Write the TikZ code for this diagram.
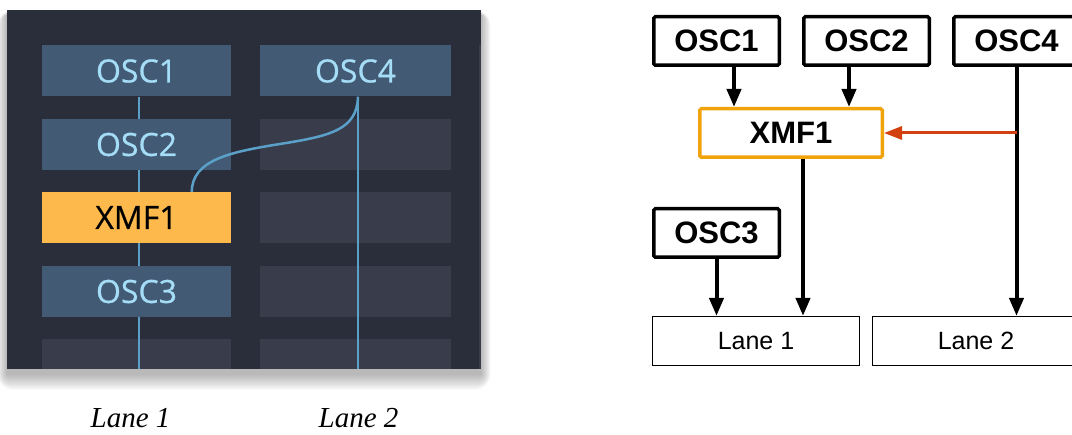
\documentclass[tikz,border=0pt]{standalone}
\usepackage{fontspec}
\setmainfont{Liberation Sans}
\newfontfamily\uifont[FakeBold=0.6]{Open Sans}
\newfontfamily\capfont{Liberation Serif}
\usetikzlibrary{arrows.meta}
\definecolor{panel}{HTML}{2A2D3A}
\definecolor{emptycell}{HTML}{393C4A}
\definecolor{fullcell}{HTML}{425A74}
\definecolor{celltext}{HTML}{A5DDF7}
\definecolor{xmffill}{HTML}{FDB94C}
\definecolor{wire}{HTML}{5AA0C8}
\definecolor{xmfborder}{HTML}{F0A30A}
\definecolor{redarrow}{HTML}{D2400F}
\tikzset{
  cellbox/.style={inner sep=0pt, minimum height=51pt, font=\uifont\fontsize{32}{32}\selectfont},
  emptybox/.style={cellbox, fill=emptycell},
  fullbox/.style={cellbox, fill=fullcell, text=celltext},
  xmfbox/.style={cellbox, fill=xmffill, text=black},
  wireline/.style={draw=wire, line width=2.5pt},
  lanecap/.style={anchor=base, inner sep=0pt, font=\capfont\itshape\fontsize{29}{29}\selectfont},
  srcbox/.style={draw=black, line width=3.5pt, rounded corners=1.5pt, inner sep=0pt,
     minimum width=125.5pt, minimum height=48.5pt, font=\bfseries\fontsize{31}{31}\selectfont},
  lanebox/.style={draw=black, line width=1.2pt, inner sep=0pt,
     minimum width=207pt, minimum height=49pt, font=\fontsize{25}{25}\selectfont},
  arr/.style={line width=4pt, -{Triangle[length=18pt,width=14pt]}},
  redarr/.style={draw=redarrow, line width=3pt, -{Triangle[length=18pt,width=13pt]}}
}
\begin{document}
\begin{tikzpicture}[x=1pt,y=-1pt]
\useasboundingbox (0,0) rectangle (1072,435);
% ---------- left panel with soft shadow ----------
\foreach \i in {1,...,16}{
  \fill[black, opacity=0.018, rounded corners=\i pt] (7-0.6*\i,10-0.3*\i+5) rectangle (481+0.6*\i,369+\i+5);
}
\fill[panel] (7,10) rectangle (481,369);
\begin{scope}
\clip (7,10) rectangle (481,369);
\node[emptybox, minimum width=191pt] (e2) at (355.5,144.5) {};
\node[emptybox, minimum width=191pt] (e3) at (355.5,217.5) {};
\node[emptybox, minimum width=191pt] (e4) at (355.5,291.5) {};
\node[emptybox, minimum width=191pt] (e5) at (355.5,365) {};
\node[emptybox, minimum width=189pt] (d5) at (136.5,365) {};
\fill[emptycell] (479,45) rectangle (481,369);
\coordinate (bot1) at (139,369);
\coordinate (bot2) at (358,369);
\end{scope}
\node[fullbox, minimum width=189pt] (lo1) at (136.5,71) {OSC1};
\node[fullbox, minimum width=191pt] (lo4) at (355.5,71) {OSC4};
\draw[wireline] ([xshift=2.5pt]lo1.south) -- ([xshift=2.5pt]lo1.south |- bot1);
\draw[wireline] ([xshift=2.5pt]lo4.south) -- ([xshift=2.5pt]lo4.south |- bot2);
\node[fullbox, minimum width=189pt] (lo2) at (136.5,144.5) {OSC2};
\node[xmfbox, minimum width=189pt] (lx1) at (136.5,217.5) {XMF1};
\node[fullbox, minimum width=189pt] (lo3) at (136.5,291.5) {OSC3};
\draw[wireline] ([xshift=2.5pt]lo4.south) .. controls (357,130) and (330,136) .. (280,144)
   .. controls (230,152) and (192,160) .. ([xshift=150pt]lx1.north west);
\node[lanecap] (cap1) at (130.5,428) {Lane 1};
\node[lanecap] (cap2) at (358.5,428) {Lane 2};
% ---------- right diagram ----------
\node[srcbox] (o1) at (716.5,41) {OSC1};
\node[srcbox] (o2) at (866.5,41) {OSC2};
\node[srcbox] (o4) at (1016.5,41) {OSC4};
\node[srcbox, draw=xmfborder, minimum width=182.5pt] (x1) at (791,133) {XMF1};
\node[srcbox] (o3) at (716.5,233) {OSC3};
\node[lanebox] (l1) at (756,341) {Lane 1};
\node[lanebox] (l2) at (976,341) {Lane 2};
\draw[arr] ([xshift=17.5pt]o1.south) -- ([xshift=17.5pt]o1.south |- x1.north);
\draw[arr] ([xshift=-17.5pt]o2.south) -- ([xshift=-17.5pt]o2.south |- x1.north);
\draw[arr] (o4.south) -- (o4.south |- l2.north);
\draw[redarr] (o4.south |- x1.east) -- (x1.east);
\draw[arr] ([xshift=12pt]x1.south) -- ([xshift=12pt]x1.south |- l1.north);
\draw[arr] (o3.south) -- (o3.south |- l1.north);
\end{tikzpicture}
\end{document}
